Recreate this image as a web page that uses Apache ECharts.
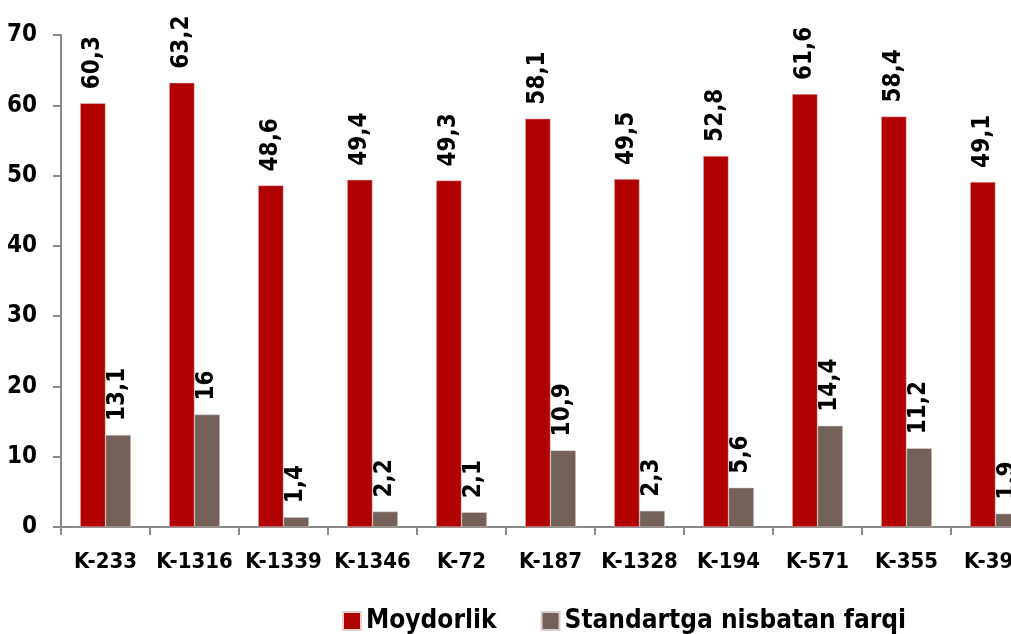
<!DOCTYPE html>
<html><head><meta charset="utf-8">
<script src="https://cdn.jsdelivr.net/npm/echarts@6/dist/echarts.min.js"></script>
<style>html,body{margin:0;padding:0;background:#fff}#c{width:1011px;height:634px}</style>
</head><body><div id="c"></div>
<script>
const categories = ['K-233','K-1316','K-1339','K-1346','K-72','K-187','K-1328','K-194','K-571','K-355','K-390'];
const moydorlik = [60.3,63.2,48.6,49.4,49.3,58.1,49.5,52.8,61.6,58.4,49.1];
const farq = [13.1,16,1.4,2.2,2.1,10.9,2.3,5.6,14.4,11.2,1.9];
const seriesNames = ['Moydorlik','Standartga nisbatan farqi'];
const yTicks = {min:0,max:70,interval:10};

const FONT = '"DejaVu Sans Condensed","DejaVu Sans",sans-serif';
const W = 'bold condensed';
const chart = echarts.init(document.getElementById('c'), null, {renderer:'canvas'});
const lbl = {
  show:true, position:'top', rotate:90, align:'left', verticalAlign:'middle', distance:14,
  fontFamily:FONT, fontWeight:W, fontSize:24, color:'#000',
  formatter: p => String(p.value).replace('.', ',')
};
chart.setOption({
  animation:false,
  grid:{left:61, width:979, top:35, bottom:107, containLabel:false, outerBoundsMode:'none'},
  legend:{
    left:337, top:603, itemWidth:18, itemHeight:18, itemGap:44,
    icon:'rect',
    textStyle:{fontFamily:FONT, fontWeight:W, fontSize:26, color:'#000'},
    data:seriesNames
  },
  xAxis:{
    type:'category', data:categories,
    axisLine:{lineStyle:{color:'#898989', width:2}},
    axisTick:{show:true, length:8, lineStyle:{color:'#898989', width:2}},
    axisLabel:{interval:0, fontFamily:FONT, fontWeight:W, fontSize:22, color:'#000', margin:24}
  },
  yAxis:{
    type:'value', min:yTicks.min, max:yTicks.max, interval:yTicks.interval,
    splitLine:{show:false},
    axisLine:{show:true, lineStyle:{color:'#898989', width:2}},
    axisTick:{show:true, length:8, lineStyle:{color:'#898989', width:2}},
    axisLabel:{fontFamily:FONT, fontWeight:W, fontSize:24, color:'#000', margin:24}
  },
  series:[
    {name:seriesNames[0], type:'bar', data:moydorlik, barGap:'0%', barCategoryGap:'43%',
     itemStyle:{color:'#B00000', borderColor:'#e8d0d0', borderWidth:0.5}, label:lbl},
    {name:seriesNames[1], type:'bar', data:farq, barGap:'0%', barCategoryGap:'43%',
     itemStyle:{color:'#74625A', borderColor:'#d8d0cc', borderWidth:0.5}, label:lbl}
  ]
});
</script></body></html>
